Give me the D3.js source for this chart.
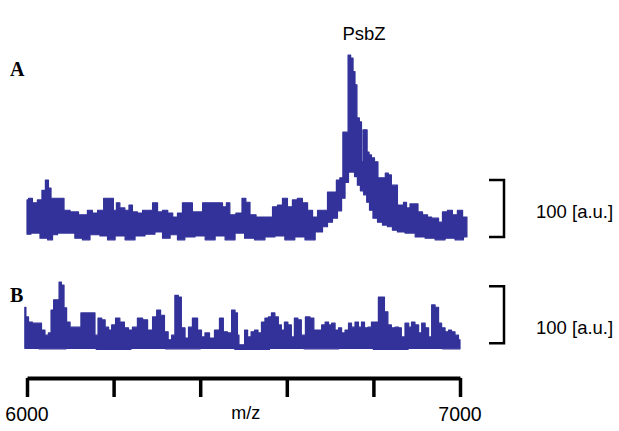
<!DOCTYPE html>
<html>
<head>
<meta charset="utf-8">
<script src="https://cdn.jsdelivr.net/npm/d3@7"></script>
<style>
  body { margin: 0; background: #fff; }
  text { font-family: "Liberation Sans", Arial, sans-serif; }
  text.panel { font-family: "Liberation Serif", "Times New Roman", serif; font-weight: bold; }
</style>
</head>
<body>
<svg id="chart"></svg>
<script>
// m/z vs intensity [a.u.] (spectrum A: upper / lower envelope)
const aUpperMz = [6000,6007,6018,6030,6039,6046,6053,6058,6076,6095,6104,6134,6145,6157,6169,6185,6196,6203,6210,6219,6233,6238,6249,6261,6273,6284,6296,6307,6319,6331,6342,6353,6365,6376,6388,6400,6411,6423,6434,6446,6457,6464,6473,6492,6501,6510,6520,6538,6561,6573,6584,6596,6607,6619,6630,6642,6654,6665,6677,6688,6700,6711,6718,6727,6732,6739,6744,6751,6755,6760,6764,6771,6774,6778,6783,6788,6792,6799,6806,6815,6824,6831,6838,6845,6852,6859,6866,6873,6880,6889,6898,6908,6919,6931,6938,6947,6954,6965,6977,6988,7000,7012,7016];
const aUpper   = [79,82,74,79,96,114,100,82,82,61,58,53,61,56,61,82,82,61,74,65,61,70,58,56,61,61,74,58,61,56,49,56,74,74,58,58,74,74,74,74,67,74,53,56,82,75,53,49,49,67,70,82,67,79,82,74,61,49,61,61,93,93,114,118,198,198,333,328,304,281,223,216,146,202,202,163,158,153,146,118,118,126,123,105,105,70,70,75,65,72,72,58,53,49,47,47,40,58,61,53,61,49,49];
const aLowerMz = [6000,6018,6042,6053,6065,6076,6099,6122,6134,6157,6180,6192,6215,6238,6261,6284,6307,6319,6342,6353,6376,6400,6423,6446,6469,6492,6513,6538,6561,6584,6607,6630,6654,6677,6688,6700,6711,6723,6730,6739,6746,6753,6760,6766,6774,6781,6788,6794,6804,6815,6827,6838,6850,6861,6885,6908,6931,6954,6977,7000,7016];
const aLower   = [19,21,12,9,18,21,21,12,9,18,16,9,16,9,16,19,23,12,18,9,14,16,9,16,9,21,12,9,14,16,9,14,9,23,32,40,47,60,82,110,128,128,120,105,95,88,75,61,47,40,35,32,26,23,21,14,12,9,12,9,14];

// spectrum B
const bUpperMz = [5995,6000,6007,6018,6030,6037,6046,6053,6058,6065,6072,6076,6083,6088,6095,6104,6122,6127,6155,6159,6169,6176,6185,6192,6199,6210,6219,6231,6238,6249,6261,6273,6284,6296,6303,6314,6321,6331,6337,6346,6353,6360,6370,6376,6388,6400,6406,6416,6427,6439,6450,6457,6469,6476,6485,6487,6492,6499,6506,6513,6522,6529,6538,6545,6554,6561,6568,6577,6584,6591,6598,6607,6614,6621,6630,6637,6649,6658,6667,6677,6684,6693,6700,6707,6716,6723,6730,6739,6746,6753,6762,6769,6776,6783,6792,6799,6808,6815,6822,6829,6838,6845,6855,6861,6868,6878,6885,6891,6901,6908,6915,6924,6931,6938,6947,6954,6961,6970,6977,6984,6993,7000];
const bUpper   = [75,58,49,47,47,35,26,30,70,88,88,119,114,74,49,40,40,65,65,26,56,53,40,35,44,56,49,39,35,40,56,53,35,58,70,61,32,18,26,96,93,39,21,40,56,35,23,30,21,35,56,32,30,70,65,26,9,9,35,23,32,35,30,49,56,58,65,58,44,35,49,44,23,56,53,26,58,56,35,35,44,49,44,47,35,39,30,35,47,40,49,40,49,39,40,49,49,93,93,67,44,39,40,39,23,47,40,49,44,30,47,39,23,79,75,47,39,32,35,32,26,18];
const bLowerMz = [5995,6060,6120,6200,6280,6360,6440,6520,6600,6680,6760,6840,6920,7000];
const bLower   = [3,2,3,1,3,2,3,1,3,2,3,1,3,2];

const axisTicks = [6000,6200,6400,6600,6800,7000];
const panelLabels = ["A", "B"];
const peakLabel = "PsbZ";
const barLabel = "100 [a.u.]";
const xLabel = "m/z";

const W = 619, H = 431;
const blue = "#32329a";

const svg = d3.select("#chart").attr("width", W).attr("height", H);

const x = d3.scaleLinear().domain([6000, 7000]).range([27, 460]);
const yA = d3.scaleLinear().domain([0, 100]).range([245, 188]);
const yB = d3.scaleLinear().domain([0, 100]).range([350, 293]);

function band(upMz, up, loMz, lo, y) {
    const top = upMz.map((m, i) => [x(m), y(up[i])]);
    const bot = loMz.map((m, i) => [x(m), y(lo[i])]).reverse();
    return d3.line().curve(d3.curveStep)(top.concat(bot)) + "Z";
}

svg.append("path")
    .attr("d", band(aUpperMz, aUpper, aLowerMz, aLower, yA))
    .attr("fill", blue)
    .attr("stroke", blue)
    .attr("stroke-width", 1.2)
    .attr("stroke-linejoin", "round");

svg.append("path")
    .attr("d", band(bUpperMz, bUpper, bLowerMz, bLower, yB))
    .attr("fill", blue)
    .attr("stroke", blue)
    .attr("stroke-width", 1.2)
    .attr("stroke-linejoin", "round");

// scale brackets, 100 a.u. each
function bracket(y, lo, labelY) {
    const x0 = 489, x1 = 504;
    svg.append("path")
        .attr("d", `M${x0},${y(lo + 100)}H${x1}V${y(lo)}H${x0}`)
        .attr("fill", "none")
        .attr("stroke", "#000")
        .attr("stroke-width", 2.5);
    svg.append("text")
        .attr("x", 536).attr("y", labelY)
        .attr("font-size", 18.5)
        .text(barLabel);
}
bracket(yA, 14, 218);
bracket(yB, 12, 334);

// m/z axis
const axisY = 378;
const ax = svg.append("g")
    .attr("transform", `translate(0,${axisY})`)
    .call(d3.axisBottom(x).tickValues(axisTicks).tickSize(19).tickSizeOuter(0).tickFormat(""));
ax.select(".domain").attr("stroke", "#000").attr("stroke-width", 4);
ax.selectAll(".tick line").attr("stroke", "#000").attr("stroke-width", 3.5);

svg.append("text").attr("x", x(6000)).attr("y", 421)
    .attr("text-anchor", "middle").attr("font-size", 19.5).text("6000");
svg.append("text").attr("x", x(7000)).attr("y", 421)
    .attr("text-anchor", "middle").attr("font-size", 19.5).text("7000");
svg.append("text").attr("x", x(6505)).attr("y", 419)
    .attr("text-anchor", "middle").attr("font-size", 18).text(xLabel);

// peak name
svg.append("text").attr("x", 364).attr("y", 40)
    .attr("text-anchor", "middle").attr("font-size", 18.5).text(peakLabel);

// panel letters
svg.selectAll("text.panel")
    .data(panelLabels)
    .enter().append("text")
    .attr("class", "panel")
    .attr("x", 10)
    .attr("y", (d, i) => i === 0 ? 76 : 302)
    .attr("font-size", 20)
    .text(d => d);
</script>
</body>
</html>
